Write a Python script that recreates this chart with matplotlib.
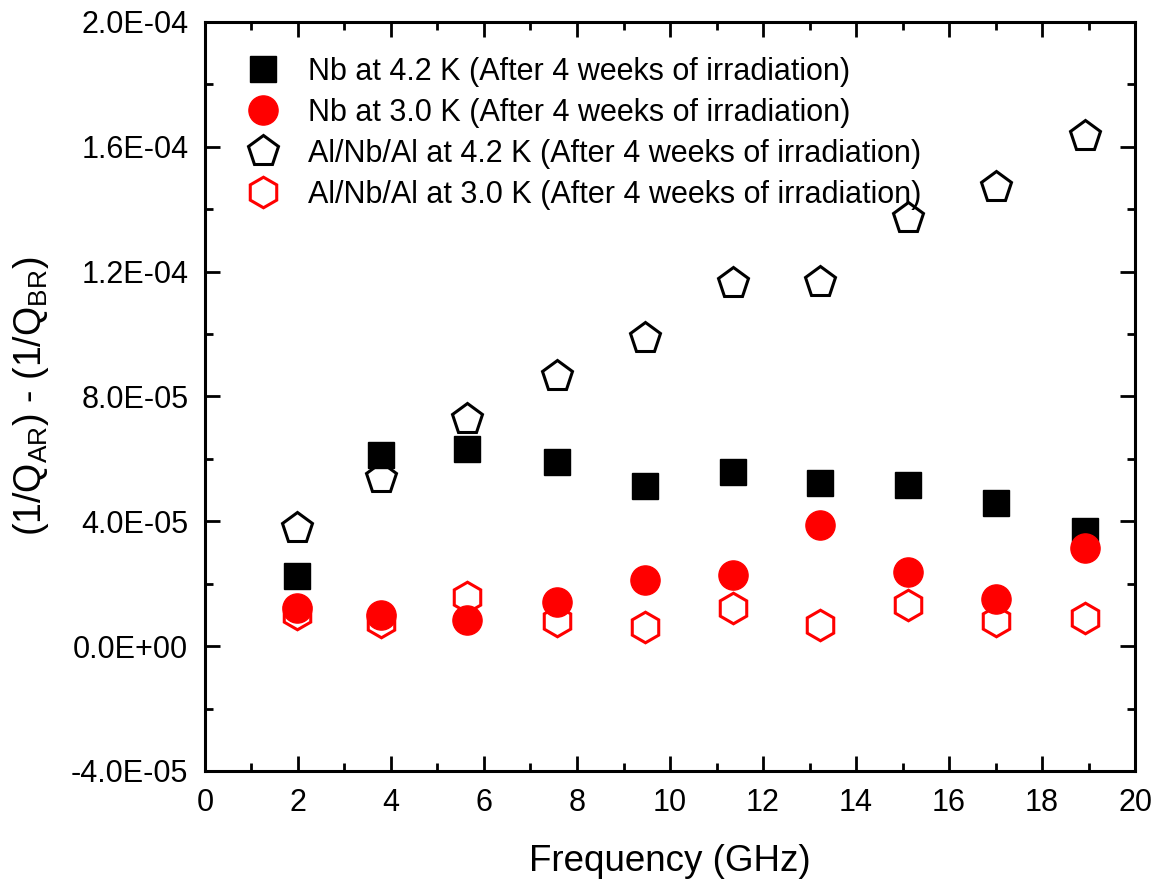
import matplotlib
matplotlib.use("Agg")
import matplotlib.pyplot as plt
from matplotlib.ticker import MultipleLocator, FuncFormatter

plt.rcParams['font.family'] = ['Liberation Sans', 'DejaVu Sans']
plt.rcParams['mathtext.fontset'] = 'custom'
plt.rcParams['mathtext.rm'] = 'Liberation Sans'
plt.rcParams['mathtext.it'] = 'Liberation Sans:italic'

# Resonator frequencies (GHz)
freq = [1.98, 3.78, 5.63, 7.57, 9.46, 11.35, 13.23, 15.12, 17.01, 18.92]

# Loss difference (1/Q_AR) - (1/Q_BR)
nb_42 = [2.24e-5, 6.12e-5, 6.31e-5, 5.90e-5, 5.13e-5, 5.58e-5, 5.22e-5, 5.16e-5, 4.58e-5, 3.69e-5]
nb_30 = [1.22e-5, 0.99e-5, 0.83e-5, 1.41e-5, 2.12e-5, 2.28e-5, 3.88e-5, 2.37e-5, 1.51e-5, 3.14e-5]
alnbal_42 = [3.78e-5, 5.38e-5, 7.28e-5, 8.65e-5, 9.87e-5, 1.163e-4, 1.167e-4, 1.372e-4, 1.471e-4, 1.635e-4]
alnbal_30 = [1.03e-5, 0.77e-5, 1.57e-5, 0.80e-5, 0.61e-5, 1.22e-5, 0.67e-5, 1.31e-5, 0.80e-5, 0.90e-5]

labels = [
    "Nb at 4.2 K (After 4 weeks of irradiation)",
    "Nb at 3.0 K (After 4 weeks of irradiation)",
    "Al/Nb/Al at 4.2 K (After 4 weeks of irradiation)",
    "Al/Nb/Al at 3.0 K (After 4 weeks of irradiation)",
]

fig = plt.figure(figsize=(11.62, 8.86), dpi=100)
ax = fig.add_axes([0.1764, 0.1298, 0.8004, 0.8454])

ax.plot(freq, nb_42, ls='none', marker='s', ms=19, color='black', mec='black', label=labels[0])
ax.plot(freq, nb_30, ls='none', marker='o', ms=21, color='red', mec='red', label=labels[1])
ax.plot(freq, alnbal_42, ls='none', marker='p', ms=23, mfc='none', mec='black', mew=2.2, label=labels[2])
ax.plot(freq, alnbal_30, ls='none', marker='h', ms=22, mfc='none', mec='red', mew=2.2, label=labels[3])

ax.set_xlim(0, 20)
ax.set_ylim(-4e-5, 2e-4)
ax.xaxis.set_major_locator(MultipleLocator(2))
ax.xaxis.set_minor_locator(MultipleLocator(1))
ax.yaxis.set_major_locator(MultipleLocator(4e-5))
ax.yaxis.set_minor_locator(MultipleLocator(2e-5))
ax.yaxis.set_major_formatter(FuncFormatter(lambda v, p: f"{0.0 if abs(v) < 1e-12 else v:.1E}"))

ax.tick_params(which='both', direction='in', top=True, right=True, width=2)
ax.tick_params(which='major', length=11, labelsize=22)
ax.tick_params(axis='x', which='major', pad=12)
ax.tick_params(axis='y', which='major', pad=12)
ax.tick_params(which='minor', length=6)
for s in ax.spines.values():
    s.set_linewidth(2.2)

ax.set_xlabel("Frequency (GHz)", fontsize=26.5)
ax.xaxis.set_label_coords(0.5, -0.097)
ax.set_ylabel(r"(1/Q$_{\mathrm{AR}}$) - (1/Q$_{\mathrm{BR}}$)", fontsize=27)
ax.yaxis.set_label_coords(-0.166, 0.5)

ax.legend(loc='upper left', frameon=False, fontsize=22, handletextpad=0.5,
          labelspacing=0.36, borderpad=0, borderaxespad=0,
          bbox_to_anchor=(0.029, 0.953))

fig.savefig("out.png", dpi=100)
